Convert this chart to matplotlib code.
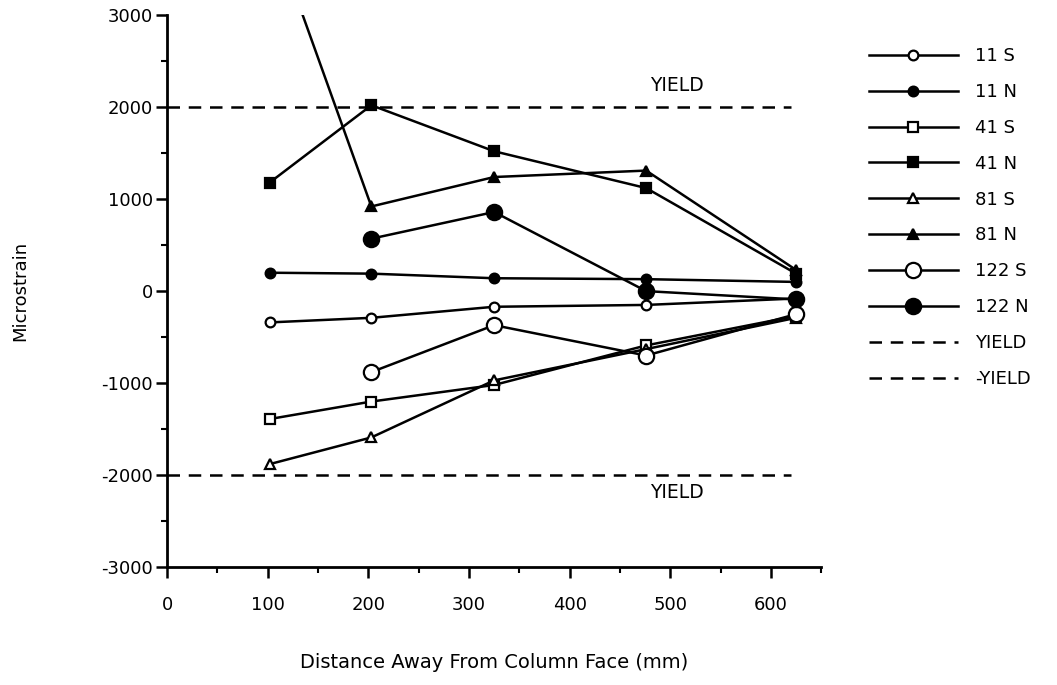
import matplotlib
matplotlib.use("Agg")
import matplotlib.pyplot as plt
from matplotlib.ticker import MultipleLocator

plt.rcParams['font.family'] = ['DejaVu Sans']
plt.rcParams['axes.unicode_minus'] = False

distance = [102, 203, 325, 476, 625]
distance_122 = [203, 325, 476, 625]

s11_S = [-340, -290, -170, -150, -80]
s11_N = [200, 190, 140, 130, 100]
s41_S = [-1390, -1200, -1020, -590, -270]
s41_N = [1180, 2020, 1520, 1120, 190]
s81_S = [-1880, -1590, -970, -630, -290]
s81_N = [4000, 920, 1240, 1310, 230]
s122_S = [-880, -370, -700, -250]
s122_N = [570, 860, 0, -90]

yield_x = [0, 620]
yield_pos = [2000, 2000]
yield_neg = [-2000, -2000]

fig = plt.figure(figsize=(10.57, 6.85), dpi=100)
ax = fig.add_axes([0.158, 0.172, 0.619, 0.806])

lw = 1.8
common = dict(color='black', lw=lw, markeredgecolor='black', markeredgewidth=1.6)
ax.plot(distance, s11_S, marker='o', ms=7, mfc='white', label='11 S', **common)
ax.plot(distance, s11_N, marker='o', ms=7, mfc='black', label='11 N', **common)
ax.plot(distance, s41_S, marker='s', ms=7, mfc='white', label='41 S', **common)
ax.plot(distance, s41_N, marker='s', ms=7, mfc='black', label='41 N', **common)
ax.plot(distance, s81_S, marker='^', ms=7, mfc='white', label='81 S', **common)
ax.plot(distance, s81_N, marker='^', ms=7, mfc='black', label='81 N', **common)
ax.plot(distance_122, s122_S, marker='o', ms=11, mfc='white', label='122 S', **common)
ax.plot(distance_122, s122_N, marker='o', ms=11, mfc='black', label='122 N', **common)
ax.plot(yield_x, yield_pos, color='black', lw=1.8, dashes=(5, 3.5), label='YIELD')
ax.plot(yield_x, yield_neg, color='black', lw=1.8, dashes=(5, 3.5), label='-YIELD')

ax.text(480, 2240, 'YIELD', fontsize=13.5, ha='left', va='center')
ax.text(480, -2190, 'YIELD', fontsize=13.5, ha='left', va='center')

ax.set_xlim(0, 650)
ax.set_ylim(-3000, 3000)
ax.xaxis.set_major_locator(MultipleLocator(100))
ax.xaxis.set_minor_locator(MultipleLocator(50))
ax.yaxis.set_major_locator(MultipleLocator(1000))
ax.yaxis.set_minor_locator(MultipleLocator(500))
ax.tick_params(which='major', direction='out', length=8, width=1.8, labelsize=13)
ax.tick_params(axis='x', which='major', pad=13)
ax.tick_params(axis='y', which='major', pad=2)
ax.tick_params(which='minor', direction='out', length=4, width=1.5)
for side in ['top', 'right']:
    ax.spines[side].set_visible(False)
for side in ['left', 'bottom']:
    ax.spines[side].set_linewidth(2.0)

ax.set_xlabel('Distance Away From Column Face (mm)', fontsize=14, labelpad=28)
ax.set_ylabel('Microstrain', fontsize=13, labelpad=52)

fig.legend(loc='upper left', bbox_to_anchor=(0.807, 0.955), frameon=False,
           fontsize=13, handlelength=4.9, labelspacing=0.99, handletextpad=0.95)

fig.savefig('out.png', dpi=100)
